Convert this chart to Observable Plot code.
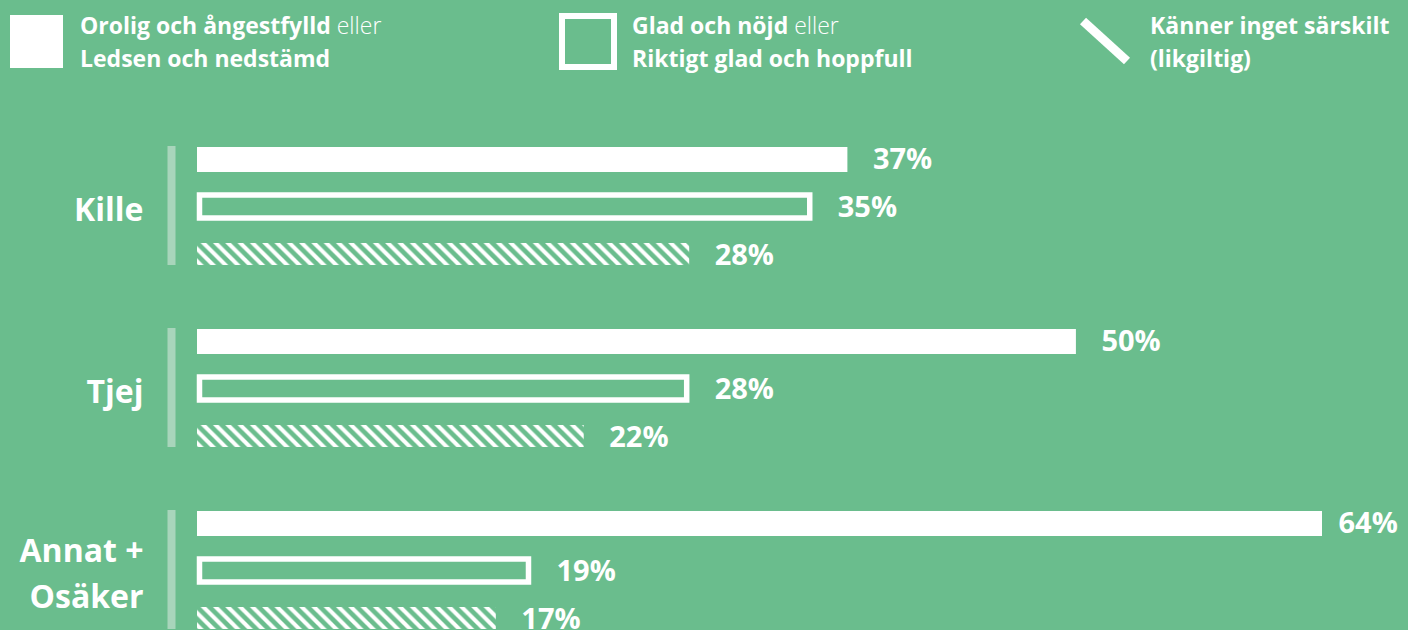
<!DOCTYPE html>
<html>
<head>
<meta charset="utf-8">
<script src="https://cdn.jsdelivr.net/npm/d3@7"></script>
<script src="https://cdn.jsdelivr.net/npm/@observablehq/plot@0.6"></script>
<style>
  html, body { margin: 0; padding: 0; background: #6abd8d; }
  body { width: 1408px; height: 630px; overflow: hidden; font-family: "Open Sans", Lato, sans-serif; color: #fff; }
  #legend { position: relative; width: 1408px; height: 100px; }
  #legend svg.icons { position: absolute; left: 0; top: 0; }
  .lg { position: absolute; font-size: 23px; line-height: 33px; font-weight: 700; white-space: nowrap; top: 9px; }
  .lg .light { font-weight: 300; }
  #chart svg { display: block; }
</style>
</head>
<body>
<div id="legend">
  <svg class="icons" width="1408" height="100">
    <rect x="10" y="15" width="53" height="53" fill="#fff"></rect>
    <rect x="562" y="16" width="52" height="51" fill="none" stroke="#fff" stroke-width="6"></rect>
    <line x1="1083" y1="21" x2="1127" y2="61" stroke="#fff" stroke-width="9"></line>
  </svg>
  <div class="lg" style="left:80px">Orolig och ångestfylld <span class="light">eller</span><br>Ledsen och nedstämd</div>
  <div class="lg" style="left:632px">Glad och nöjd <span class="light">eller</span><br>Riktigt glad och hoppfull</div>
  <div class="lg" style="left:1150px">Känner inget särskilt<br>(likgiltig)</div>
</div>
<div id="chart"></div>
<svg width="0" height="0" style="position:absolute">
  <defs>
    <pattern id="hatch" patternUnits="userSpaceOnUse" width="12.3" height="12.3">
      <path d="M0,0L12.3,12.3M-4,8.3L4,16.3M8.3,-4L16.3,4" stroke="#fff" stroke-width="4" fill="none"></path>
    </pattern>
  </defs>
</svg>
<script>
const categories = ["Kille", "Tjej", "Annat +\nOsäker"];
const seriesKeys = ["orolig", "glad", "likgiltig"];
const oroligLedsen = [37, 50, 64];
const gladHoppfull = [35, 28, 19];
const likgiltig = [28, 22, 17];

const seriesValues = [oroligLedsen, gladHoppfull, likgiltig];
const rows = [];
categories.forEach((c, i) => {
  seriesKeys.forEach((s, j) => {
    rows.push({category: c, series: s, value: seriesValues[j][i]});
  });
});
const bySeries = s => rows.filter(d => d.series === s);

const chart = Plot.plot({
  width: 1408,
  height: 531,
  marginLeft: 197,
  marginRight: 86,
  marginTop: 45,
  marginBottom: 0,
  style: {background: "transparent", color: "#fff", fontFamily: "'Open Sans', Lato, sans-serif"},
  x: {domain: [0, 64], axis: null},
  y: {domain: seriesKeys, paddingInner: 0.55, paddingOuter: 0, axis: null},
  fy: {domain: categories, paddingInner: 0.344, paddingOuter: 0, axis: null},
  marks: [
    Plot.ruleX(categories, {fy: d => d, x: 0, dx: -26, stroke: "#a8d5bb", strokeWidth: 8}),
    Plot.text(categories, {fy: d => d, text: d => d, frameAnchor: "left", dx: -54, textAnchor: "end",
      fontSize: 32, fontWeight: 700, fill: "#fff", lineHeight: 1.44}),
    Plot.barX(bySeries("orolig"), {fy: "category", y: "series", x: "value", fill: "#fff", insetBottom: -3}),
    Plot.barX(bySeries("glad"), {fy: "category", y: "series", x: "value", fill: "none", stroke: "#fff",
      strokeWidth: 5.5, insetTop: 0, insetBottom: -1, insetLeft: 2.5, insetRight: 2.5}),
    Plot.barX(bySeries("likgiltig"), {fy: "category", y: "series", x: "value", fill: "url(#hatch)"}),
    Plot.text(rows.filter(d => d.value < 60), {fy: "category", y: "series", x: "value", text: d => d.value + "%",
      dx: 25, dy: 1, textAnchor: "start", fontSize: 29, fontWeight: 700, fill: "#fff"}),
    Plot.text(rows.filter(d => d.value >= 60), {fy: "category", y: "series", x: "value", text: d => d.value + "%",
      dx: 16, dy: 1, textAnchor: "start", fontSize: 29, fontWeight: 700, fill: "#fff"})
  ]
});
document.getElementById("chart").appendChild(chart);
</script>
</body>
</html>
